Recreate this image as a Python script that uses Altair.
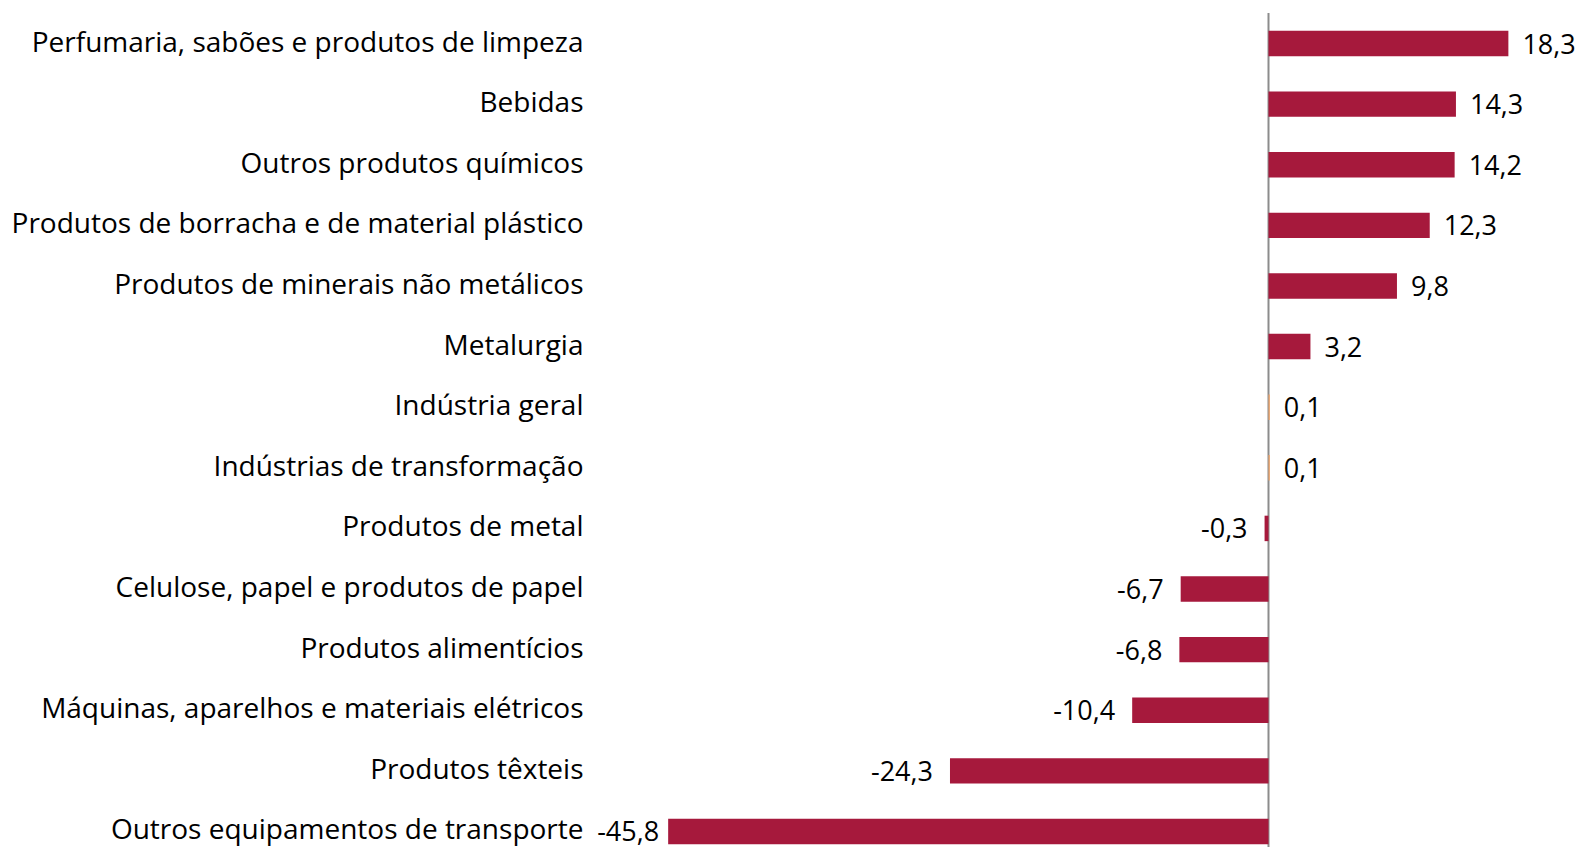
import altair as alt
import pandas as pd

categories = [
    "Perfumaria, sabões e produtos de limpeza",
    "Bebidas",
    "Outros produtos químicos",
    "Produtos de borracha e de material plástico",
    "Produtos de minerais não metálicos",
    "Metalurgia",
    "Indústria geral",
    "Indústrias de transformação",
    "Produtos de metal",
    "Celulose, papel e produtos de papel",
    "Produtos alimentícios",
    "Máquinas, aparelhos e materiais elétricos",
    "Produtos têxteis",
    "Outros equipamentos de transporte",
]
values = [18.3, 14.3, 14.2, 12.3, 9.8, 3.2, 0.1, 0.1, -0.3, -6.7, -6.8, -10.4, -24.3, -45.8]
highlight = ["Indústria geral", "Indústrias de transformação"]

df = pd.DataFrame({"cat": categories, "val": values})
df["label"] = [f"{v:.1f}".replace(".", ",") for v in values]
df["grp"] = ["total" if c in highlight else "setor" for c in categories]
df["zero"] = 0.0

FONT = "Open Sans"
FS_CAT = 28
FS_VAL = 27
SHIFT = 7.5

y = alt.Y("cat:N", sort=categories, title=None,
          scale=alt.Scale(paddingInner=0.58, paddingOuter=0.17),
          axis=alt.Axis(domain=False, ticks=False, labelFont=FONT, labelFontSize=FS_CAT,
                        labelColor="#000000", labelPadding=17, labelLimit=1000,
                        labelOffset=SHIFT))
x = alt.X("val:Q", title=None, scale=alt.Scale(domain=[-51, 18.5], nice=False, zero=False),
          axis=None)

bars = alt.Chart(df).mark_bar(yOffset=SHIFT).encode(
    x=x, x2="zero:Q", y=y,
    color=alt.Color("grp:N", scale=alt.Scale(domain=["setor", "total"], range=["#A6193C", "#F2A66A"]), legend=None),
)

pos = alt.Chart(df).transform_filter("datum.val >= 0").mark_text(
    align="left", baseline="middle", dx=14, dy=2 + SHIFT, font=FONT, fontSize=FS_VAL, color="#000000"
).encode(x=x, y=y, text="label:N")

neg = alt.Chart(df).transform_filter("datum.val < 0 && datum.val > -40").mark_text(
    align="right", baseline="middle", dx=-17, dy=2 + SHIFT, font=FONT, fontSize=FS_VAL, color="#000000"
).encode(x=x, y=y, text="label:N")

neg_far = alt.Chart(df).transform_filter("datum.val <= -40").mark_text(
    align="right", baseline="middle", dx=-9, dy=2 + SHIFT, font=FONT, fontSize=FS_VAL, color="#000000"
).encode(x=x, y=y, text="label:N")

zero = alt.Chart(pd.DataFrame({"val": [0.0]})).mark_rule(color="#8C8C8C", strokeWidth=2).encode(x=x)

chart = alt.layer(zero, bars, pos, neg, neg_far).properties(
    width=911, height=834,
    autosize=alt.AutoSizeParams(type="none"),
    padding={"left": 592, "top": 5, "right": 64, "bottom": 0},
    background="#ffffff",
).configure_view(stroke=None)

chart.save("out.html", embed_options={"renderer": "svg", "actions": False})
